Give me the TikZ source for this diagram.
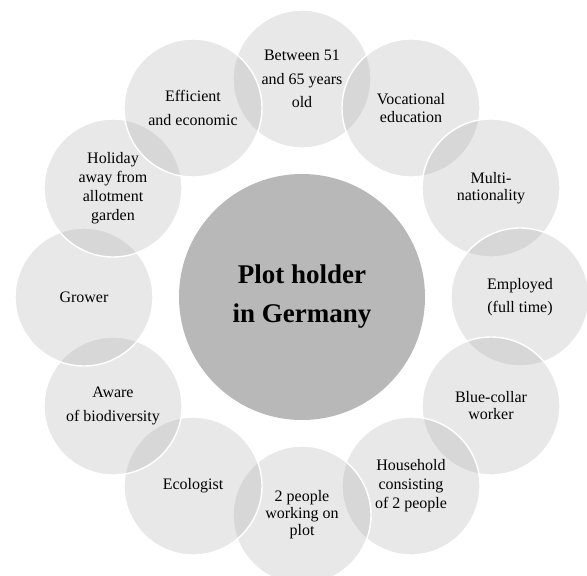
\documentclass[tikz,border=0pt]{standalone}
\usepackage{fontspec}
\setmainfont{Liberation Serif}
\definecolor{cfill}{gray}{0.655}
\definecolor{cmain}{gray}{0.722}
\begin{document}
\begin{tikzpicture}[x=1pt,y=-1pt,
  outer/.style={circle, minimum size=138pt, inner sep=0pt, fill=cfill, fill opacity=0.26,
    text opacity=1, draw=white, draw opacity=1, line width=1.4pt, align=center, text=black},
  sp/.style={font=\fontsize{16}{#1}\selectfont},
  mainc/.style={circle, minimum size=246pt, inner sep=0pt, fill=cmain, align=center,
    font=\fontsize{27}{39}\selectfont\bfseries}]
\useasboundingbox (0,0) rectangle (587,576);
\node[mainc] (main) at (302,297) {Plot holder\\in Germany};
\node[outer, sp=23.5] (c1) at (302,79) {Between 51\\and 65 years\\old};
\node[outer, sp=17.5] (c2) at (411,108) {Vocational\\education};
\node[outer, sp=17] (c3) at (491,188) {Multi-\\nationality};
\node[outer, sp=23.5] (c4) at (520,297) {Employed\\(full time)};
\node[outer, sp=17] (c5) at (491,406) {Blue-collar\\worker};
\node[outer, sp=19] (c6) at (411,486) {Household\\consisting\\of 2 people};
\node[outer, sp=17] (c7) at (302,515) {2 people\\working on\\plot};
\node[outer, sp=19] (c8) at (193,486) {Ecologist};
\node[outer, sp=24] (c9) at (113,406) {Aware\\of biodiversity};
\node[outer, sp=19] (c10) at (84,297) {Grower};
\node[outer, sp=19] (c11) at (113,188) {Holiday\\away from\\allotment\\garden};
\node[outer, sp=23.5] (c12) at (193,108) {Efficient\\and economic};
\end{tikzpicture}
\end{document}
